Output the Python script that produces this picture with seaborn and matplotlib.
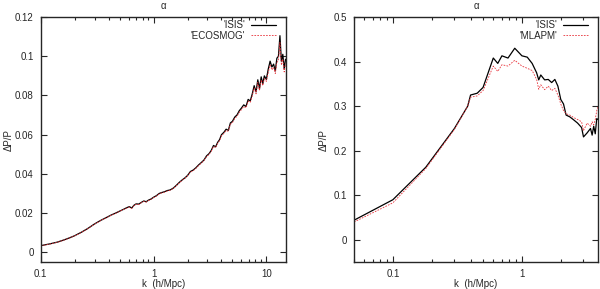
import numpy as np
import pandas as pd
import matplotlib
matplotlib.use("Agg")
import matplotlib.pyplot as plt
from matplotlib.ticker import FuncFormatter, LogLocator, NullFormatter
import seaborn as sns

# left panel: ISIS vs ECOSMOG
k_left = [0.10, 0.12, 0.14, 0.16, 0.18, 0.20, 0.23, 0.26, 0.30, 0.34, 0.38, 0.42,
          0.46, 0.50, 0.54, 0.58, 0.61, 0.64, 0.67, 0.70, 0.74, 0.78, 0.82, 0.86,
          0.90, 0.95, 1.00, 1.06, 1.12, 1.18, 1.25, 1.32, 1.40, 1.50, 1.60, 1.70,
          1.80, 1.90, 2.00, 2.12, 2.25, 2.38, 2.50, 2.65, 2.80, 2.95, 3.10, 3.25,
          3.40, 3.55, 3.70, 3.85, 4.00, 4.20, 4.40, 4.60, 4.80, 5.00, 5.25, 5.50,
          5.75, 6.00, 6.30, 6.60, 6.90, 7.20, 7.50, 7.80, 8.10, 8.40, 8.70, 9.00,
          9.30, 9.60, 10.0, 10.4, 10.8, 11.2, 11.6, 12.0, 12.4, 12.8, 13.2, 13.6,
          14.0, 14.4, 14.8]
isis_left = [0.0034, 0.0043, 0.0052, 0.0063, 0.0074, 0.0085, 0.0103, 0.0121, 0.0145,
             0.0163, 0.0177, 0.0190, 0.0200, 0.0210, 0.0219, 0.0228, 0.0233, 0.0226,
             0.0240, 0.0247, 0.0246, 0.0255, 0.0262, 0.0258, 0.0266, 0.0272, 0.0281,
             0.0289, 0.0300, 0.0305, 0.0309, 0.0315, 0.0318, 0.0328, 0.0343, 0.0358,
             0.0370, 0.0380, 0.0392, 0.0412, 0.0420, 0.0432, 0.0445, 0.0458, 0.0471,
             0.0492, 0.0503, 0.0520, 0.0545, 0.0538, 0.0561, 0.0575, 0.0600, 0.0612,
             0.0628, 0.0622, 0.0660, 0.0668, 0.0690, 0.0701, 0.0722, 0.0735, 0.0752,
             0.0744, 0.0780, 0.0772, 0.0808, 0.0850, 0.0818, 0.0880, 0.0835, 0.0895,
             0.0860, 0.0900, 0.0882, 0.0935, 0.0975, 0.0945, 0.0960, 0.0925, 0.0990,
             0.1000, 0.1105, 0.0975, 0.1010, 0.0935, 0.0985]
ecosmog_left = [0.0033, 0.0042, 0.0051, 0.0062, 0.0073, 0.0084, 0.0102, 0.0120, 0.0144,
                0.0162, 0.0176, 0.0189, 0.0199, 0.0209, 0.0218, 0.0226, 0.0231, 0.0224,
                0.0238, 0.0245, 0.0244, 0.0253, 0.0260, 0.0256, 0.0264, 0.0270, 0.0279,
                0.0287, 0.0298, 0.0303, 0.0307, 0.0313, 0.0316, 0.0326, 0.0341, 0.0356,
                0.0368, 0.0378, 0.0390, 0.0409, 0.0417, 0.0429, 0.0442, 0.0455, 0.0468,
                0.0488, 0.0499, 0.0516, 0.0540, 0.0534, 0.0556, 0.0570, 0.0594, 0.0606,
                0.0622, 0.0617, 0.0653, 0.0661, 0.0683, 0.0694, 0.0714, 0.0727, 0.0744,
                0.0737, 0.0771, 0.0764, 0.0798, 0.0838, 0.0808, 0.0866, 0.0826, 0.0880,
                0.0850, 0.0886, 0.0872, 0.0918, 0.0955, 0.0930, 0.0944, 0.0912, 0.0968,
                0.0978, 0.1070, 0.0955, 0.0985, 0.0920, 0.0962]

# right panel: ISIS vs MLAPM
k_right = [0.05, 0.10, 0.18, 0.30, 0.38, 0.40, 0.45, 0.50, 0.60, 0.65, 0.70, 0.78,
           0.88, 1.00, 1.10, 1.20, 1.30, 1.35, 1.40, 1.50, 1.60, 1.70, 1.80, 1.90,
           2.00, 2.10, 2.20, 2.35, 2.50, 2.70, 2.90, 3.00, 3.20, 3.40, 3.50, 3.60,
           3.70, 3.80, 3.90]
isis_right = [0.044, 0.090, 0.163, 0.250, 0.300, 0.325, 0.329, 0.342, 0.408, 0.396,
              0.413, 0.408, 0.430, 0.413, 0.410, 0.396, 0.375, 0.359, 0.370, 0.359,
              0.360, 0.353, 0.360, 0.345, 0.315, 0.305, 0.280, 0.276, 0.270, 0.262,
              0.252, 0.231, 0.240, 0.250, 0.235, 0.255, 0.238, 0.272, 0.270]
mlapm_right = [0.040, 0.083, 0.160, 0.248, 0.300, 0.320, 0.323, 0.335, 0.390, 0.378,
               0.393, 0.390, 0.403, 0.390, 0.385, 0.380, 0.360, 0.338, 0.348, 0.337,
               0.345, 0.335, 0.340, 0.325, 0.305, 0.290, 0.283, 0.280, 0.275, 0.270,
               0.265, 0.245, 0.262, 0.255, 0.265, 0.258, 0.270, 0.290, 0.300]

sns.set_style("ticks")
plt.rcParams['font.family'] = ['Liberation Sans', 'DejaVu Sans']
plt.rcParams['font.size'] = 7

fig = plt.figure(figsize=(6.0, 2.89), dpi=100)
ax1 = fig.add_axes([0.068, 0.093, 0.409, 0.848])
ax2 = fig.add_axes([0.590, 0.093, 0.407, 0.848])

gfmt = FuncFormatter(lambda v, p: '%g' % v)


def draw(ax, k, a, b, label_a, label_b, xlim, ylim, yticks):
    df = pd.DataFrame({'k': k, 'a': a, 'b': b})
    sns.lineplot(data=df, x='k', y='a', ax=ax, color='black', lw=0.9,
                 label=label_a)
    sns.lineplot(data=df, x='k', y='b', ax=ax, color='#e8323a', lw=0.6,
                 dashes=(2, 1.5), label=label_b)
    ax.set_xscale('log')
    ax.set_xlim(*xlim)
    ax.set_ylim(*ylim)
    ax.set_yticks(yticks)
    ax.yaxis.set_major_formatter(gfmt)
    ax.xaxis.set_major_locator(LogLocator(base=10))
    ax.xaxis.set_minor_locator(LogLocator(base=10, subs=np.arange(2, 10)))
    ax.xaxis.set_major_formatter(gfmt)
    ax.xaxis.set_minor_formatter(NullFormatter())
    ax.tick_params(which='both', direction='in', top=True, right=True,
                   labelsize=7, width=0.8)
    ax.tick_params(which='major', length=4, pad=5)
    ax.tick_params(which='minor', length=2)
    for s in ax.spines.values():
        s.set_linewidth(1.0)
    ax.set_title('α', fontsize=7, pad=6)
    ax.set_xlabel('k  (h/Mpc)', fontsize=7)
    ax.set_ylabel('ΔP/P', fontsize=7)
    ax.xaxis.set_label_coords(0.5, -0.068)
    leg = ax.legend(loc='upper right', bbox_to_anchor=(1.0, 1.027),
                    frameon=False, markerfirst=False,
                    fontsize=7, handlelength=2.6, handletextpad=0.6,
                    labelspacing=0.05, borderaxespad=0.6)
    for t in leg.get_texts():
        t.set_ha('right')


draw(ax1, k_left, isis_left, ecosmog_left, "'ISIS'", "'ECOSMOG'",
     (0.1, 15), (-0.005, 0.12), [0, 0.02, 0.04, 0.06, 0.08, 0.1, 0.12])
draw(ax2, k_right, isis_right, mlapm_right, "'ISIS'", "'MLAPM'",
     (0.05, 3.9), (-0.05, 0.5), [0, 0.1, 0.2, 0.3, 0.4, 0.5])
ax1.yaxis.set_label_coords(-0.112, 0.5)
ax2.yaxis.set_label_coords(-0.102, 0.5)

fig.savefig('out.png', dpi=100)
